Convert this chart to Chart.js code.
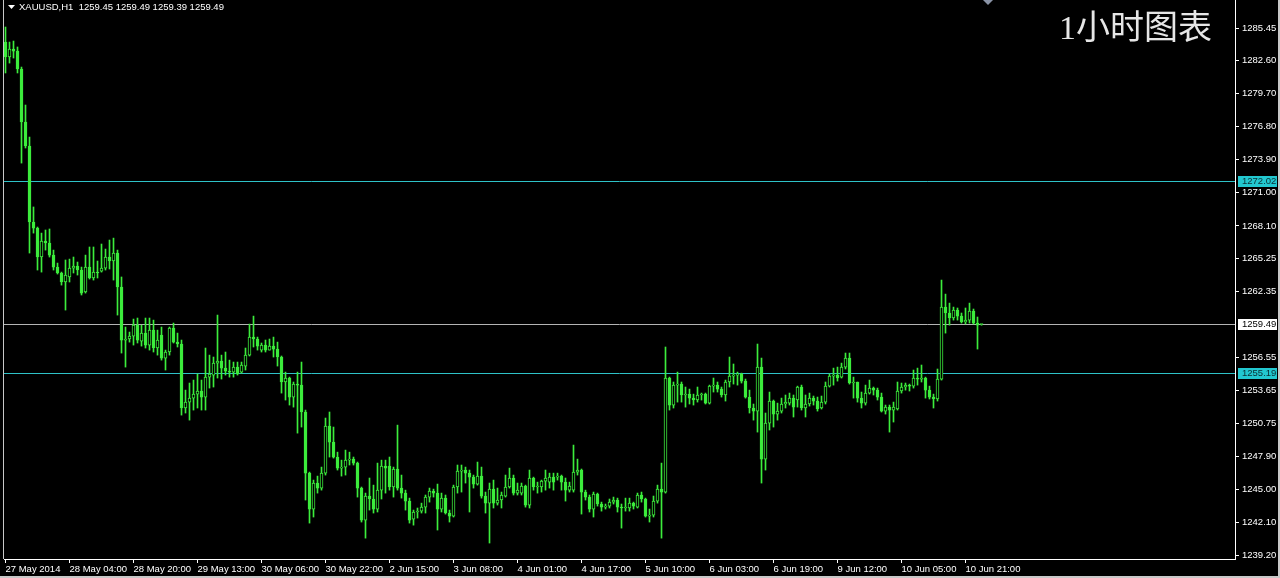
<!DOCTYPE html>
<html>
<head>
<meta charset="utf-8">
<script src="https://cdn.jsdelivr.net/npm/chart.js@4.4.1/dist/chart.umd.min.js"></script>
<style>
html, body { margin: 0; padding: 0; background: #000; overflow: hidden; }
#wrap { width: 1280px; height: 578px; }
</style>
</head>
<body>
<div id="wrap"><canvas id="xauChart" width="1280" height="578"></canvas></div>
<script>
// XAUUSD H1 candles, one per hour
var opens = [
  1284.22,1282.91,1283.61,1283.43,1281.86,1277.21,1275.11,1268.44,1267.91,1265.37,1266.77,1266.60,1265.54,1264.49,1263.97,
  1263.18,1263.62,1264.40,1264.58,1264.23,1262.30,1264.49,1263.53,1264.05,1264.14,1264.40,1265.37,1265.02,1265.72,1262.74,
  1258.09,1258.18,1258.44,1259.40,1258.00,1258.70,1257.65,1258.96,1257.39,1258.53,1256.51,1257.04,1259.14,1257.91,1257.74,
  1252.13,1252.65,1253.00,1253.35,1253.62,1253.09,1254.84,1255.02,1256.07,1256.25,1255.63,1255.37,1255.28,1255.72,1255.28,
  1255.81,1256.77,1258.35,1258.18,1257.21,1257.65,1257.21,1257.56,1257.30,1256.60,1254.41,1254.76,1253.09,1254.23,1254.14,
  1251.78,1246.42,1243.27,1245.55,1245.11,1246.42,1250.55,1249.14,1247.83,1246.86,1246.95,1247.56,1247.65,1247.30,1245.11,
  1242.30,1244.41,1244.15,1243.27,1244.93,1247.04,1247.04,1245.20,1246.78,1245.11,1244.67,1243.97,1242.39,1243.01,1243.09,
  1243.44,1244.32,1244.85,1244.67,1243.27,1244.23,1242.92,1242.65,1245.20,1246.60,1246.69,1246.42,1246.07,1245.46,1246.16,
  1244.41,1243.79,1245.02,1243.79,1244.06,1244.41,1245.20,1245.99,1244.67,1244.67,1245.28,1243.62,1245.99,1245.20,1245.20,
  1245.72,1245.63,1246.07,1246.07,1246.16,1245.63,1244.93,1244.93,1246.51,1246.69,1244.76,1244.32,1243.27,1244.58,1243.71,
  1243.44,1243.53,1243.88,1244.06,1243.44,1243.36,1243.36,1243.79,1243.44,1244.50,1244.15,1242.65,1242.74,1243.97,1245.02,
  1244.76,1254.76,1252.39,1254.14,1254.23,1253.27,1253.35,1253.00,1252.83,1253.27,1253.35,1252.56,1254.05,1254.14,1253.79,
  1253.27,1254.41,1254.93,1255.02,1255.11,1254.49,1253.09,1252.13,1251.86,1255.72,1247.65,1250.81,1252.74,1251.60,1251.86,
  1252.48,1252.56,1253.00,1252.83,1253.97,1252.13,1252.48,1253.00,1252.74,1252.13,1252.65,1254.05,1254.93,1255.02,1254.84,
  1255.72,1256.51,1254.32,1254.41,1253.00,1252.56,1253.44,1253.88,1253.70,1253.09,1251.86,1252.21,1251.95,1252.04,1253.62,
  1253.97,1254.14,1254.05,1254.76,1254.67,1254.76,1253.70,1253.09,1252.92,1254.67,1260.98,1260.46,1260.02,1260.72,1260.19,
  1259.67,1259.84,1260.63,1259.58,1259.45
];
var highs = [
  1285.54,1284.22,1284.31,1283.79,1282.03,1278.70,1275.89,1269.76,1268.00,1267.47,1267.74,1267.83,1265.98,1264.84,1264.05,
  1265.11,1265.19,1265.37,1264.93,1264.49,1265.54,1266.25,1266.25,1265.02,1266.51,1266.07,1266.86,1267.03,1265.98,1263.62,
  1259.23,1258.79,1259.93,1260.02,1259.40,1260.02,1260.02,1259.84,1258.96,1259.23,1257.21,1259.23,1259.58,1258.70,1258.09,
  1253.70,1254.32,1254.58,1255.11,1254.58,1257.39,1256.77,1256.60,1260.28,1256.77,1257.04,1256.33,1256.16,1256.16,1256.16,
  1257.39,1259.49,1260.19,1258.35,1257.83,1258.09,1258.18,1258.35,1257.91,1256.69,1255.28,1254.84,1254.41,1255.28,1256.16,
  1251.95,1246.51,1245.81,1246.16,1246.95,1251.25,1251.78,1250.46,1248.26,1247.56,1248.44,1248.26,1247.83,1247.39,1245.20,
  1244.67,1245.99,1245.37,1247.30,1247.56,1247.56,1247.83,1246.95,1250.63,1246.25,1244.93,1244.23,1243.18,1243.36,1243.79,
  1244.50,1245.11,1245.02,1245.46,1244.67,1244.50,1243.18,1245.37,1247.13,1247.13,1246.95,1246.69,1246.25,1247.39,1246.95,
  1244.76,1245.55,1245.81,1245.11,1244.76,1246.25,1246.86,1246.25,1245.55,1245.55,1245.37,1246.69,1246.07,1245.63,1245.81,
  1246.69,1246.42,1246.42,1246.42,1246.25,1245.99,1245.63,1248.88,1247.65,1246.78,1244.93,1244.50,1244.76,1244.67,1243.88,
  1243.71,1244.15,1244.32,1244.23,1243.71,1244.23,1244.23,1243.88,1244.67,1244.76,1244.23,1243.27,1244.41,1245.37,1247.30,
  1257.48,1254.84,1254.41,1255.28,1254.41,1253.97,1253.79,1253.35,1253.97,1253.44,1253.44,1254.14,1254.76,1254.41,1253.97,
  1254.58,1256.60,1255.99,1255.28,1255.19,1254.67,1253.70,1252.48,1257.74,1256.51,1251.69,1253.53,1252.83,1252.56,1253.00,
  1253.27,1253.44,1253.27,1254.05,1254.14,1253.27,1253.44,1253.18,1253.09,1253.18,1254.41,1255.11,1255.63,1255.72,1256.07,
  1256.95,1256.95,1254.84,1254.41,1253.53,1254.14,1254.58,1253.97,1253.88,1253.44,1252.39,1252.39,1252.65,1254.41,1254.32,
  1254.32,1254.23,1255.46,1255.63,1255.90,1254.84,1254.05,1253.35,1255.55,1263.35,1262.12,1261.33,1260.98,1260.90,1260.46,
  1260.90,1261.33,1260.81,1260.11,1259.49
];
var lows = [
  1281.51,1282.38,1282.82,1281.51,1273.61,1274.93,1265.72,1267.47,1264.23,1264.05,1265.98,1265.37,1264.23,1263.88,1262.91,
  1260.72,1263.18,1263.97,1263.79,1262.04,1262.21,1263.44,1263.35,1263.53,1264.05,1264.23,1264.32,1263.35,1260.28,1256.95,
  1255.72,1257.91,1257.65,1257.83,1257.56,1257.39,1257.21,1257.04,1256.77,1256.33,1255.46,1256.77,1257.83,1257.48,1251.51,
  1251.69,1251.07,1251.95,1252.13,1251.95,1251.95,1253.88,1253.97,1254.76,1254.67,1255.02,1254.84,1254.84,1255.02,1255.19,
  1255.46,1256.69,1257.48,1257.21,1257.04,1257.04,1257.21,1256.60,1255.81,1253.44,1252.83,1252.39,1252.21,1249.93,1250.46,
  1244.06,1242.04,1242.57,1244.67,1244.93,1246.25,1247.83,1247.74,1246.69,1246.16,1246.25,1247.13,1247.13,1244.32,1242.13,
  1240.72,1243.18,1242.92,1243.01,1244.15,1244.67,1244.93,1244.32,1244.93,1244.23,1243.18,1242.04,1241.86,1242.48,1242.92,
  1242.92,1243.88,1244.32,1241.43,1243.01,1242.83,1242.13,1242.57,1244.67,1244.76,1245.55,1243.01,1245.11,1245.37,1244.23,
  1242.92,1240.29,1243.36,1243.62,1243.36,1244.32,1245.11,1244.50,1244.50,1244.50,1243.44,1243.36,1244.93,1244.67,1244.76,
  1244.93,1245.11,1244.93,1245.81,1244.93,1243.97,1244.76,1244.76,1246.25,1242.83,1244.06,1243.01,1242.57,1243.53,1243.09,
  1243.27,1243.36,1243.71,1243.01,1241.60,1243.09,1243.09,1243.27,1243.36,1243.88,1242.57,1242.13,1242.57,1243.79,1240.72,
  1244.67,1251.95,1252.13,1252.65,1252.65,1252.21,1252.48,1252.39,1252.65,1252.83,1252.48,1252.48,1253.53,1253.53,1253.09,
  1252.74,1253.97,1254.23,1254.14,1254.32,1253.00,1251.69,1251.07,1250.02,1245.55,1246.69,1250.20,1250.46,1251.07,1251.69,
  1252.13,1252.39,1251.34,1252.21,1251.95,1251.34,1252.30,1252.39,1251.86,1252.04,1252.48,1253.97,1254.14,1254.49,1254.76,
  1255.55,1254.23,1253.00,1252.65,1252.13,1252.39,1253.35,1253.27,1252.83,1251.78,1251.60,1250.02,1250.90,1251.95,1253.44,
  1253.70,1253.62,1253.88,1254.14,1254.41,1253.00,1252.92,1252.13,1252.74,1254.58,1258.70,1259.40,1259.84,1259.84,1259.58,
  1259.49,1259.58,1259.49,1257.30,1259.39
];
var closes = [
  1282.91,1283.61,1283.43,1281.86,1277.21,1275.11,1268.44,1267.91,1265.37,1266.77,1266.60,1265.54,1264.49,1263.97,1263.18,
  1263.79,1264.40,1264.58,1264.23,1262.21,1264.49,1263.53,1264.05,1263.97,1264.40,1265.37,1265.02,1265.72,1262.74,1258.09,
  1258.18,1258.44,1259.40,1258.09,1258.70,1257.65,1258.96,1257.39,1258.09,1256.51,1257.04,1259.14,1257.91,1257.74,1252.13,
  1252.65,1253.00,1253.35,1253.62,1253.09,1254.84,1255.11,1256.07,1256.25,1255.63,1255.37,1255.28,1255.72,1255.11,1255.90,
  1256.77,1258.35,1258.18,1257.56,1257.65,1257.21,1257.56,1257.30,1256.60,1254.41,1254.76,1253.09,1254.23,1254.14,1251.78,
  1246.42,1243.27,1245.55,1245.11,1246.42,1250.55,1249.14,1247.83,1246.86,1246.95,1247.56,1247.65,1247.30,1245.11,1242.30,
  1244.41,1244.15,1243.27,1244.93,1247.04,1246.86,1245.20,1246.78,1245.11,1244.67,1243.97,1242.30,1243.01,1243.09,1243.44,
  1244.32,1244.85,1244.67,1243.27,1244.23,1242.92,1242.65,1245.20,1246.60,1246.69,1246.42,1246.07,1245.46,1246.16,1244.41,
  1243.79,1245.02,1243.79,1244.06,1244.50,1245.20,1245.99,1244.67,1244.93,1245.28,1243.62,1245.99,1245.20,1245.28,1245.72,
  1245.99,1246.07,1245.63,1246.16,1245.63,1244.93,1245.28,1246.51,1246.69,1244.76,1244.32,1243.27,1244.58,1243.71,1243.44,
  1243.53,1243.88,1244.06,1243.44,1243.36,1243.44,1243.79,1243.53,1244.50,1244.15,1242.65,1242.74,1243.97,1245.02,1244.76,
  1254.76,1252.39,1254.14,1254.23,1253.27,1253.35,1253.00,1252.83,1253.27,1253.35,1252.56,1254.05,1254.14,1253.79,1253.27,
  1254.41,1254.93,1255.02,1255.11,1254.49,1253.09,1252.13,1251.86,1255.72,1247.65,1250.81,1252.74,1251.60,1251.86,1252.48,
  1252.65,1253.00,1252.21,1253.97,1252.13,1252.48,1253.00,1252.74,1252.04,1252.65,1254.05,1254.93,1255.02,1254.76,1255.72,
  1256.51,1254.32,1254.41,1253.00,1252.56,1253.44,1253.88,1253.70,1253.09,1251.86,1252.21,1251.95,1252.21,1253.62,1253.97,
  1254.14,1254.05,1254.76,1254.67,1254.76,1253.70,1253.09,1252.92,1254.67,1260.98,1260.46,1260.02,1260.72,1260.19,1259.67,
  1259.84,1260.63,1259.58,1259.40,1259.49
];

// time axis labels and the bar each one sits on
var xLabels = ['27 May 2014','28 May 04:00','28 May 20:00','29 May 13:00','30 May 06:00','30 May 22:00','2 Jun 15:00','3 Jun 08:00',
               '4 Jun 01:00','4 Jun 17:00','5 Jun 10:00','6 Jun 03:00','6 Jun 19:00','9 Jun 12:00','10 Jun 05:00','10 Jun 21:00'];
var xTickBars = [0,16,32,48,64,80,96,112,128,144,160,176,192,208,224,240];

// price scale
var yTicks = [1285.45,1282.60,1279.70,1276.80,1273.90,1271.00,1268.10,1265.25,1262.35,
              1256.55,1253.65,1250.75,1247.90,1245.00,1242.10,1239.20];

// horizontal lines: two levels and the bid
var levelPrices = [1272.02, 1255.19];
var bidPrice = 1259.49;

var symbolTitle = 'XAUUSD,H1';
var lastBar = ['1259.45','1259.49','1259.39','1259.49'];
var cornerTitle = '1小时图表';

var GREEN = '#3CEC3C';
var CYAN = '#2EC2C8';
var FONT = '"Liberation Sans", Arial, sans-serif';

var bodyData = opens.map(function(o, i) { return {x: i, y: [o, closes[i]]}; });
var wickData = lows.map(function(l, i) { return {x: i, y: [l, highs[i]]}; });

function priceBox(ctx, y, text, fill, color) {
    ctx.fillStyle = fill;
    ctx.fillRect(1238, Math.round(y) - 5, 39, 11);
    ctx.fillStyle = color;
    ctx.textAlign = 'left';
    ctx.textBaseline = 'middle';
    ctx.fillText(text, 1242, Math.round(y) + 0.5);
}

var decor = {
    id: 'decor',
    beforeDatasetsDraw: function(chart) {
        var ctx = chart.ctx, a = chart.chartArea, ys = chart.scales.y;
        ctx.save();
        ctx.lineWidth = 1;
        levelPrices.forEach(function(p) {
            var y = Math.round(ys.getPixelForValue(p)) + 0.5;
            ctx.strokeStyle = CYAN;
            ctx.beginPath(); ctx.moveTo(a.left, y); ctx.lineTo(a.right, y); ctx.stroke();
        });
        var by = Math.round(ys.getPixelForValue(bidPrice)) + 0.5;
        ctx.strokeStyle = '#B4B4B4';
        ctx.beginPath(); ctx.moveTo(a.left, by); ctx.lineTo(a.right, by); ctx.stroke();
        ctx.restore();
    },
    afterDraw: function(chart) {
        var ctx = chart.ctx, ys = chart.scales.y;
        ctx.save();
        ctx.font = '9.5px ' + FONT;
        levelPrices.forEach(function(p) {
            priceBox(ctx, ys.getPixelForValue(p), p.toFixed(2), '#22C8D0', '#0B2F33');
        });
        priceBox(ctx, ys.getPixelForValue(bidPrice), bidPrice.toFixed(2), '#FFFFFF', '#000000');

        // left frame line
        ctx.fillStyle = '#C8C8C8';
        ctx.fillRect(3, 0, 1, chart.chartArea.bottom);

        // header
        ctx.fillStyle = '#FFFFFF';
        ctx.beginPath(); ctx.moveTo(8, 5); ctx.lineTo(15, 5); ctx.lineTo(11.5, 9); ctx.closePath(); ctx.fill();
        ctx.textAlign = 'left';
        ctx.textBaseline = 'middle';
        ctx.fillText(symbolTitle + '  ' + lastBar.join(' '), 19, 7.5);

        // chart shift marker
        ctx.fillStyle = '#8A93A6';
        ctx.beginPath(); ctx.moveTo(983, 0); ctx.lineTo(993, 0); ctx.lineTo(988, 5); ctx.closePath(); ctx.fill();

        // corner title
        ctx.font = '34px "Liberation Serif", "Noto Sans CJK SC", serif';
        ctx.fillStyle = '#E6E6E6';
        ctx.fillText(cornerTitle, 1059, 30);

        // window edges
        ctx.fillStyle = '#C8C8C8';
        ctx.fillRect(1278, 0, 2, 578);
        ctx.fillRect(0, 576, 1280, 2);
        ctx.restore();
    }
};

Chart.defaults.font.family = FONT;
Chart.defaults.font.size = 9.5;
Chart.defaults.color = '#FFFFFF';

var ctx = document.getElementById('xauChart');
var chart = new Chart(ctx, {
    type: 'bar',
    data: {
        datasets: [
            {
                label: 'body',
                data: bodyData,
                order: 0,
                barThickness: 3,
                minBarLength: 1,
                borderWidth: 1,
                borderSkipped: false,
                borderColor: GREEN,
                backgroundColor: function(c) {
                    var i = c.dataIndex;
                    return closes[i] >= opens[i] ? '#000000' : GREEN;
                }
            },
            {
                label: 'wick',
                data: wickData,
                order: 1,
                barThickness: 1,
                borderWidth: 0,
                backgroundColor: GREEN
            }
        ]
    },
    options: {
        responsive: false,
        animation: false,
        events: [],
        layout: { padding: { left: 4, top: 0, right: 0, bottom: 0 } },
        datasets: { bar: { grouped: false } },
        plugins: { legend: { display: false }, tooltip: { enabled: false } },
        scales: {
            x: {
                type: 'linear',
                min: -0.375,
                max: 307.375,
                offset: false,
                afterFit: function(s) {
                    s.height = 19;
                    s.paddingLeft = 0; s.paddingRight = 0;
                },
                afterBuildTicks: function(s) {
                    s.ticks = xTickBars.map(function(v) { return {value: v}; });
                },
                ticks: {
                    autoSkip: false,
                    maxRotation: 0,
                    align: 'start',
                    padding: 1,
                    color: '#FFFFFF',
                    callback: function(v, idx) { return xLabels[idx]; }
                },
                grid: { offset: false, drawOnChartArea: false, drawTicks: true, tickLength: 4, color: '#FFFFFF' },
                border: { display: true, color: '#FFFFFF' }
            },
            y: {
                position: 'right',
                min: 1238.89,
                max: 1287.91,
                beginAtZero: false,
                afterFit: function(s) {
                    s.width = 45;
                    s.paddingTop = 0; s.paddingBottom = 0;
                },
                afterBuildTicks: function(s) {
                    s.ticks = yTicks.map(function(v) { return {value: v}; });
                },
                ticks: {
                    autoSkip: false,
                    padding: 3,
                    color: '#FFFFFF',
                    callback: function(v) { return v.toFixed(2); }
                },
                grid: { drawOnChartArea: false, drawTicks: true, tickLength: 4, color: '#FFFFFF' },
                border: { display: true, color: '#FFFFFF' }
            }
        }
    },
    plugins: [decor]
});
</script>
</body>
</html>
